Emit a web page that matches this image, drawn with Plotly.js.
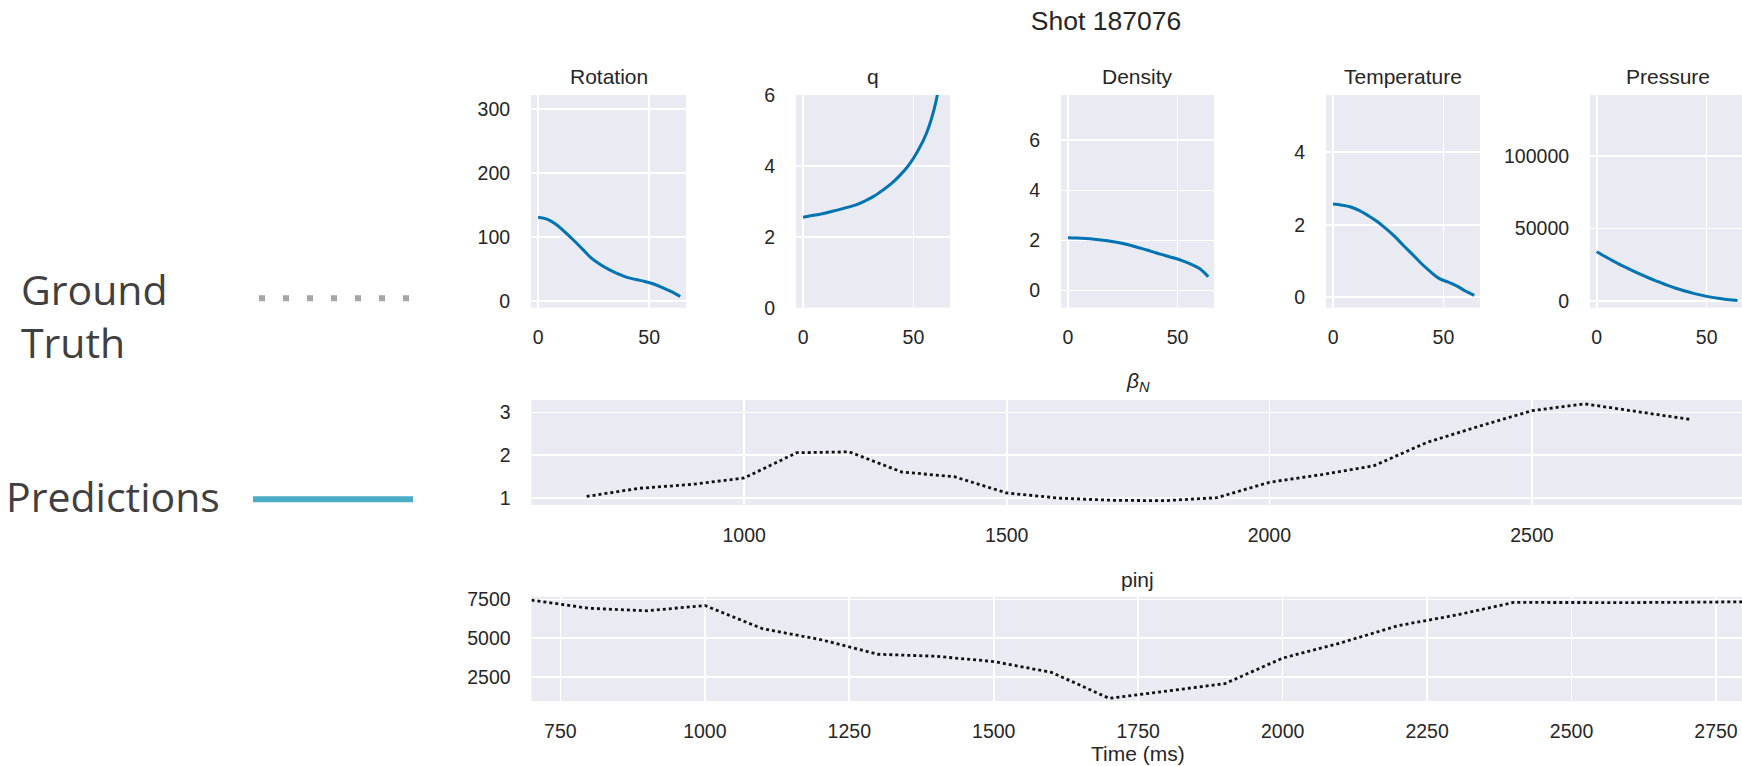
<!DOCTYPE html>
<html>
<head>
<meta charset="utf-8">
<script src="https://cdn.plot.ly/plotly-3.0.1.min.js"></script>
<style>
  html, body { margin: 0; padding: 0; background: #ffffff; overflow: hidden; }
  #chart { width: 1742px; height: 766px; }
</style>
</head>
<body>
<div id="chart"></div>
<script>
// ---------------- data ----------------
const profileIndex = [0, 4, 8, 12, 16, 20, 24, 28, 32, 36, 40, 44, 48, 52, 56, 60, 64];
const rotation     = [131, 128, 120, 108, 95, 81, 67, 57, 49, 42.5, 37, 33.5, 30.5, 26.5, 21, 14.5, 7];
const safetyQ      = [2.55, 2.60, 2.64, 2.70, 2.76, 2.83, 2.90, 3.01, 3.14, 3.31, 3.50, 3.74, 4.03, 4.42, 4.93, 5.75, 7.2];
const density      = [2.11, 2.10, 2.08, 2.05, 2.01, 1.96, 1.90, 1.82, 1.72, 1.62, 1.51, 1.41, 1.31, 1.20, 1.06, 0.88, 0.55];
const temperature  = [2.57, 2.54, 2.49, 2.39, 2.25, 2.09, 1.89, 1.67, 1.42, 1.18, 0.93, 0.71, 0.52, 0.42, 0.31, 0.17, 0.05];
const pressure     = [34000, 30500, 27200, 24000, 21100, 18300, 15700, 13300, 10900, 8800, 6900, 5300, 3900, 2700, 1700, 900, 400];

const timeMs = [700, 800, 900, 1000, 1100, 1200, 1300, 1400, 1500, 1600, 1700, 1800, 1900, 2000, 2100, 2200, 2300, 2400, 2500, 2600, 2700, 2800];
const betaN  = [1.04, 1.23, 1.32, 1.47, 2.06, 2.08, 1.61, 1.50, 1.12, 1.00, 0.95, 0.94, 1.01, 1.37, 1.55, 1.76, 2.30, 2.68, 3.04, 3.20, 3.02, 2.84];
const pinj   = [7450, 6920, 6760, 7100, 5600, 4900, 3950, 3820, 3480, 2780, 1100, 1560, 2050, 3700, 4680, 5800, 6480, 7300, 7280, 7290, 7310, 7340];

const panelTitles = ['Rotation', 'q', 'Density', 'Temperature', 'Pressure'];
const profileSeries = [rotation, safetyQ, density, temperature, pressure];
const legendLabels = ['Ground<br>Truth', 'Predictions'];
const mainTitle = 'Shot 187076';
const betaTitle = '<i>β</i><sub><i>N</i></sub>';
const pinjTitle = 'pinj';
const timeLabel = 'Time (ms)';

// ---------------- layout helpers ----------------
const W = 1742, H = 766;
const px = v => v / W;
const py = v => 1 - v / H;

const predColor = '#0173b2';
const truthColor = '#111111';
const bg = '#EAEAF2';

function baseAxis(extra) {
  return Object.assign({
    showgrid: true, gridcolor: '#ffffff', gridwidth: 1.6,
    zeroline: false, showline: false,
    ticks: 'outside', tickcolor: 'rgba(0,0,0,0)',
    tickfont: { size: 19.5, color: '#262626' },
    fixedrange: true
  }, extra);
}

const traces = [];
const layout = {
  width: W, height: H,
  margin: { l: 0, r: 0, t: 0, b: 0 },
  paper_bgcolor: '#ffffff',
  plot_bgcolor: bg,
  showlegend: false,
  font: { family: 'Liberation Sans, Arial, sans-serif', color: '#262626', size: 19 },
  title: {
    text: mainTitle, x: px(1106), y: py(21), xanchor: 'center', yanchor: 'middle',
    font: { size: 26.5, color: '#262626' }
  },
  annotations: [],
  shapes: []
};

// top row: five profile panels
const topLeft = [531, 796, 1061, 1326, 1590];
const topRight = [686, 950, 1214, 1480, 1742];
const topYRanges = [[-10.5, 322], [0, 6], [-0.68, 7.8], [-0.29, 5.58], [-4600, 142000]];
const topXRanges = [[-3.2, 66.6], [-3.2, 66.6], [-3.2, 66.6], [-3.2, 66.6], [-3.05, 66.05]];
const topDtick = [100, 2, 2, 2, 50000];
const topY = [py(307.7), py(95)];

for (let i = 0; i < 5; i++) {
  const n = i + 1;
  const xa = 'xaxis' + (n === 1 ? '' : n);
  const ya = 'yaxis' + (n === 1 ? '' : n);
  traces.push({
    type: 'scatter', mode: 'lines',
    x: profileIndex, y: profileSeries[i],
    xaxis: 'x' + (n === 1 ? '' : n), yaxis: 'y' + (n === 1 ? '' : n),
    line: { color: predColor, width: 3, shape: 'spline', smoothing: 1 },
    hoverinfo: 'skip'
  });
  layout[xa] = baseAxis({
    domain: [px(topLeft[i]), Math.min(1, px(topRight[i]))],
    range: topXRanges[i], dtick: 50, tick0: 0, ticklen: 12,
    anchor: 'y' + (n === 1 ? '' : n)
  });
  layout[ya] = baseAxis({
    domain: topY, range: topYRanges[i], dtick: topDtick[i], tick0: 0, ticklen: 16,
    tickformat: 'd',
    anchor: 'x' + (n === 1 ? '' : n)
  });
  layout.annotations.push({
    text: panelTitles[i], xref: 'paper', yref: 'paper',
    x: px((topLeft[i] + (i === 4 ? 1745 : topRight[i])) / 2), y: py(76.5),
    xanchor: 'center', yanchor: 'middle', showarrow: false,
    font: { size: 21, color: '#262626' }
  });
}

// beta_N panel
traces.push({
  type: 'scatter', mode: 'lines', x: timeMs, y: betaN,
  xaxis: 'x6', yaxis: 'y6',
  line: { color: truthColor, width: 2.8, dash: 'dot' }, hoverinfo: 'skip'
});
layout.xaxis6 = baseAxis({
  domain: [px(531.5), 1], range: [595, 2900], dtick: 500, tick0: 0, ticklen: 13, anchor: 'y6'
});
layout.yaxis6 = baseAxis({
  domain: [py(505), py(400)], range: [0.84, 3.29], dtick: 1, tick0: 0, ticklen: 16, anchor: 'x6'
});
layout.annotations.push({
  text: betaTitle, xref: 'paper', yref: 'paper', x: px(1137.7), y: py(382),
  xanchor: 'center', yanchor: 'middle', showarrow: false,
  font: { size: 21, color: '#262626' }
});

// pinj panel
traces.push({
  type: 'scatter', mode: 'lines', x: timeMs, y: pinj,
  xaxis: 'x7', yaxis: 'y7',
  line: { color: truthColor, width: 2.8, dash: 'dot' }, hoverinfo: 'skip'
});
layout.xaxis7 = baseAxis({
  domain: [px(531.5), 1], range: [700, 2795], dtick: 250, tick0: 0, ticklen: 13, anchor: 'y7'
});
layout.yaxis7 = baseAxis({
  domain: [py(701), py(596.7)], range: [930, 7670], dtick: 2500, tick0: 0, ticklen: 16,
  tickformat: 'd', anchor: 'x7'
});
layout.annotations.push({
  text: pinjTitle, xref: 'paper', yref: 'paper', x: px(1137.7), y: py(579),
  xanchor: 'center', yanchor: 'middle', showarrow: false,
  font: { size: 21, color: '#262626' }
});
layout.annotations.push({
  text: timeLabel, xref: 'paper', yref: 'paper', x: px(1138), y: py(753),
  xanchor: 'center', yanchor: 'middle', showarrow: false,
  font: { size: 21, color: '#262626' }
});

// manual legend on the left
layout.annotations.push({
  text: legendLabels[0], xref: 'paper', yref: 'paper', x: px(19), y: py(315),
  xanchor: 'left', yanchor: 'middle', align: 'left', showarrow: false,
  font: { family: 'Open Sans, sans-serif', size: 41, color: '#404040' }
});
layout.annotations.push({
  text: legendLabels[1], xref: 'paper', yref: 'paper', x: px(4), y: py(496),
  xanchor: 'left', yanchor: 'middle', align: 'left', showarrow: false,
  font: { family: 'Open Sans, sans-serif', size: 41, color: '#404040' }
});
layout.shapes.push({
  type: 'line', xref: 'paper', yref: 'paper',
  x0: px(259), x1: px(412), y0: py(298.3), y1: py(298.3),
  line: { color: '#a6a6a6', width: 6, dash: '6px,18px' }
});
layout.shapes.push({
  type: 'line', xref: 'paper', yref: 'paper',
  x0: px(253), x1: px(413), y0: py(499.3), y1: py(499.3),
  line: { color: '#4bacc6', width: 6 }
});

Plotly.newPlot('chart', traces, layout, { displayModeBar: false, staticPlot: true });
</script>
</body>
</html>
